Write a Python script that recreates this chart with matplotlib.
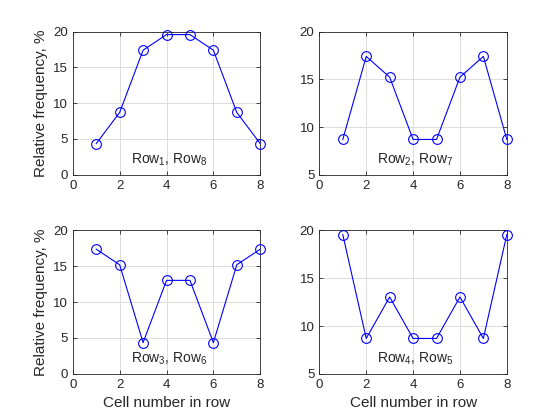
import numpy as np
import matplotlib.pyplot as plt

plt.rcParams['font.family'] = ['Liberation Sans', 'DejaVu Sans']
plt.rcParams['mathtext.fontset'] = 'custom'
plt.rcParams['mathtext.rm'] = 'Liberation Sans'

cells = [1, 2, 3, 4, 5, 6, 7, 8]
row18 = [4.35, 8.70, 17.39, 19.57, 19.57, 17.39, 8.70, 4.35]
row27 = [8.70, 17.39, 15.22, 8.70, 8.70, 15.22, 17.39, 8.70]
row36 = [17.39, 15.22, 4.35, 13.04, 13.04, 4.35, 15.22, 17.39]
row45 = [19.57, 8.70, 13.04, 8.70, 8.70, 13.04, 8.70, 19.57]
labels = ['Row$_{\\rm 1}$, Row$_{\\rm 8}$', 'Row$_{\\rm 2}$, Row$_{\\rm 7}$',
          'Row$_{\\rm 3}$, Row$_{\\rm 6}$', 'Row$_{\\rm 4}$, Row$_{\\rm 5}$']
ylims = [(0, 20), (5, 20), (0, 20), (5, 20)]

fig = plt.figure(figsize=(5.6, 4.2), dpi=100)
pos = [[0.13, 0.5838, 0.3347, 0.3412], [0.5703, 0.5838, 0.3347, 0.3412],
       [0.13, 0.11, 0.3347, 0.3412], [0.5703, 0.11, 0.3347, 0.3412]]
tc = '#262626'

for i, y in enumerate([row18, row27, row36, row45]):
    ax = fig.add_axes(pos[i])
    ax.plot(cells, y, '-o', color='#0000ff', lw=0.8, ms=7, mfc='none', mew=0.8,
            clip_on=False, zorder=5)
    ax.set_xlim(0, 8)
    ax.set_ylim(*ylims[i])
    ax.set_xticks([0, 2, 4, 6, 8])
    ax.set_yticks(np.arange(ylims[i][0], 21, 5))
    ax.grid(True, color='#dcdcdc', lw=0.7)
    ax.set_axisbelow(True)
    ax.tick_params(direction='in', length=3, labelsize=9.5, colors=tc,
                   top=True, right=True, width=0.6)
    for s in ax.spines.values():
        s.set_color(tc)
        s.set_linewidth(0.6)
    ax.text(0.31, 0.105, labels[i], transform=ax.transAxes, fontsize=10,
            ha='left', va='center', color=tc)
    if i % 2 == 0:
        ax.set_ylabel('Relative frequency, %', fontsize=11, color=tc)
    if i >= 2:
        ax.set_xlabel('Cell number in row', fontsize=11, color=tc)

fig.savefig('out.png', dpi=100)
